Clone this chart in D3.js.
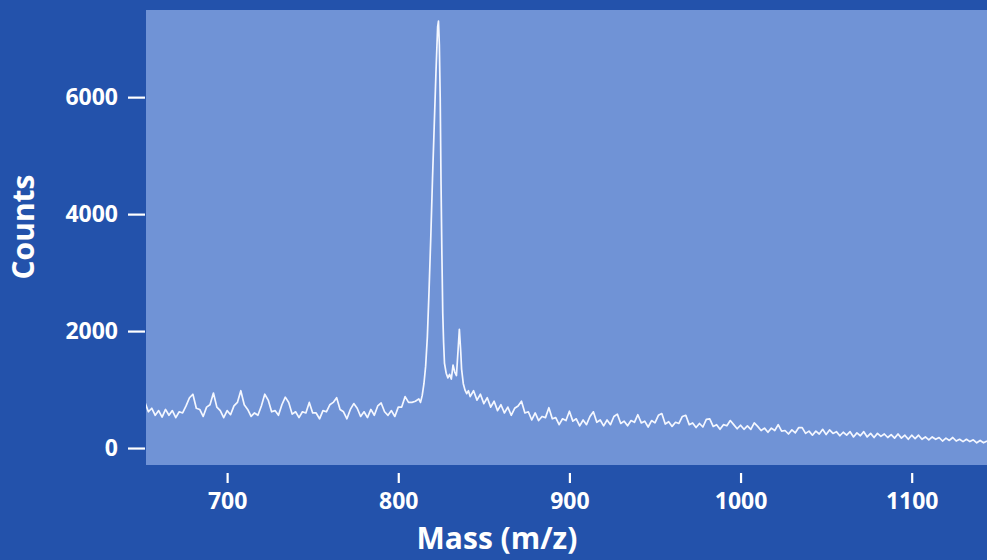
<!DOCTYPE html>
<html>
<head>
<meta charset="utf-8">
<script src="https://cdn.jsdelivr.net/npm/d3@7"></script>
<style>
  body { margin: 0; background: #2352ab; }
  svg { display: block; }
  .axis text { fill: #fff; font-family: "Open Sans", sans-serif; font-weight: 700; font-size: 23px; }
  .axis line { stroke: #fff; stroke-width: 2.2; }
  .axis path { display: none; }
  .aText { fill: #fff; font-family: "Open Sans", sans-serif; font-weight: 700; font-size: 30px; }
</style>
</head>
<body>
<div class="spectrum"></div>
<script>
var svgWidth = 987;
var svgHeight = 560;

// plot box in page pixels
var plot = { left: 146, right: 987, top: 10, bottom: 465 };

// mass (m/z) of each sample point
var mass = [
  652, 654, 656, 658, 660, 662, 664, 666, 668, 670, 672, 674, 676, 678, 680, 682, 684, 686, 688, 690,
  692, 694, 696, 698, 700, 702, 704, 706, 708, 710, 712, 714, 716, 718, 720, 722, 724, 726, 728, 730,
  732, 734, 736, 738, 740, 742, 744, 746, 748, 750, 752, 754, 756, 758, 760, 762, 764, 766, 768, 770,
  772, 774, 776, 778, 780, 782, 784, 786, 788, 790, 792, 794, 796, 798, 800, 802, 804, 806, 808, 810,
  812, 813, 814, 815, 816, 817, 818, 819, 820, 821, 822, 823, 823.5, 824, 824.5, 825, 825.5, 826, 826.5, 827,
  828, 829, 830, 831, 832, 833, 834, 835, 835.7, 836.5, 837, 838, 839, 840, 841, 842,
  844, 846, 848, 850, 852, 854, 856, 858, 860, 862, 864, 866, 868, 870, 872, 874, 876, 878, 880, 882,
  884, 886, 888, 890, 892, 894, 896, 898, 900, 902, 904, 906, 908, 910, 912, 914, 916, 918, 920, 922,
  924, 926, 928, 930, 932, 934, 936, 938, 940, 942, 944, 946, 948, 950, 952, 954, 956, 958, 960, 962,
  964, 966, 968, 970, 972, 974, 976, 978, 980, 982, 984, 986, 988, 990, 992, 994, 996, 998, 1000, 1002,
  1004, 1006, 1008, 1010, 1012, 1014, 1016, 1018, 1020, 1022, 1024, 1026, 1028, 1030, 1032, 1034, 1036, 1038, 1040, 1042,
  1044, 1046, 1048, 1050, 1052, 1054, 1056, 1058, 1060, 1062, 1064, 1066, 1068, 1070, 1072, 1074, 1076, 1078, 1080, 1082,
  1084, 1086, 1088, 1090, 1092, 1094, 1096, 1098, 1100, 1102, 1104, 1106, 1108, 1110, 1112, 1114, 1116, 1118, 1120, 1122,
  1124, 1126, 1128, 1130, 1132, 1134, 1136, 1138, 1140, 1142, 1144
];

// counts, one per mass value
var counts = [
  780, 620, 680, 560, 640, 530, 660, 560, 640, 520, 620, 600, 720, 860, 920, 680, 660, 540, 700, 740,
  940, 700, 640, 520, 640, 570, 720, 780, 980, 740, 660, 540, 600, 560, 720, 920, 820, 620, 640, 560,
  740, 870, 780, 580, 620, 520, 620, 600, 780, 600, 600, 500, 640, 620, 740, 780, 860, 660, 620, 500,
  660, 760, 680, 540, 620, 520, 660, 560, 720, 770, 620, 560, 640, 540, 700, 700, 880, 780, 780, 800,
  840, 780, 900, 1100, 1400, 1900, 2700, 3600, 4600, 5500, 6400, 7200, 7300, 6900, 6000, 4500, 3300, 2300, 1800, 1450,
  1280, 1200, 1260, 1180, 1420, 1300, 1240, 1700, 2030, 1650, 1350, 1100, 990, 930, 980, 880,
  980, 820, 920, 760, 860, 700, 800, 640, 740, 600, 700, 560, 680, 720, 800, 600, 620, 480, 600, 470,
  540, 520, 690, 500, 520, 400, 500, 470, 630, 460, 500, 380, 480, 400, 540, 620, 440, 480, 380, 480,
  400, 540, 580, 420, 460, 380, 470, 440, 570, 430, 460, 360, 470, 430, 560, 590, 410, 450, 370, 440,
  420, 540, 560, 400, 430, 350, 420, 360, 490, 500, 370, 400, 320, 400, 380, 470, 400, 330, 390, 320,
  380, 320, 430, 370, 300, 340, 270, 340, 300, 400, 290, 300, 240, 310, 260, 350, 350, 250, 290, 220,
  290, 240, 320, 230, 310, 250, 280, 210, 270, 220, 280, 190, 260, 210, 280, 190, 250, 180, 250, 200,
  240, 180, 230, 170, 240, 170, 220, 150, 220, 160, 220, 150, 190, 140, 190, 150, 180, 120, 170, 130,
  180, 120, 150, 110, 150, 110, 140, 90, 130, 90, 120
];

var yTicks = [0, 2000, 4000, 6000];
var xTicks = [700, 800, 900, 1000, 1100];

var data = mass.map(function(m, i) { return { mass: m, counts: counts[i] }; });

var svg = d3.select('.spectrum')
  .append('svg')
  .attr('width', svgWidth)
  .attr('height', svgHeight);

var xScale = d3.scaleLinear()
  .domain([652.6, 1144])
  .range([plot.left, plot.right]);

var yScale = d3.scaleLinear()
  .domain([-290, 7490])
  .range([plot.bottom, plot.top]);

// light plot panel
svg.append('rect')
  .attr('x', plot.left)
  .attr('y', plot.top)
  .attr('width', plot.right - plot.left)
  .attr('height', plot.bottom - plot.top)
  .attr('fill', '#7093d6');

svg.append('clipPath')
  .attr('id', 'plotClip')
  .append('rect')
  .attr('x', plot.left)
  .attr('y', plot.top)
  .attr('width', plot.right - plot.left)
  .attr('height', plot.bottom - plot.top);

// axes
svg.append('g')
  .attr('class', 'axis')
  .attr('transform', `translate(${plot.left - 1}, 0)`)
  .call(d3.axisLeft(yScale).tickValues(yTicks).tickFormat(d3.format('d')).tickSize(17).tickPadding(10));

svg.append('g')
  .attr('class', 'axis')
  .attr('transform', `translate(0, ${plot.bottom + 8})`)
  .call(d3.axisBottom(xScale).tickValues(xTicks).tickFormat(d3.format('d')).tickSize(10).tickPadding(10));

// spectrum trace
var line = d3.line()
  .x(d => xScale(d.mass))
  .y(d => yScale(d.counts));

svg.append('path')
  .datum(data)
  .attr('clip-path', 'url(#plotClip)')
  .attr('d', line)
  .attr('fill', 'none')
  .attr('stroke', '#f4f7ff')
  .attr('stroke-width', 1.7)
  .attr('stroke-linejoin', 'round');

// axis labels
svg.append('text')
  .attr('class', 'aText')
  .attr('transform', 'translate(34, 227) rotate(-90)')
  .attr('text-anchor', 'middle')
  .text('Counts');

svg.append('text')
  .attr('class', 'aText')
  .attr('x', 497)
  .attr('y', 549)
  .attr('text-anchor', 'middle')
  .text('Mass (m/z)');
</script>
</body>
</html>
